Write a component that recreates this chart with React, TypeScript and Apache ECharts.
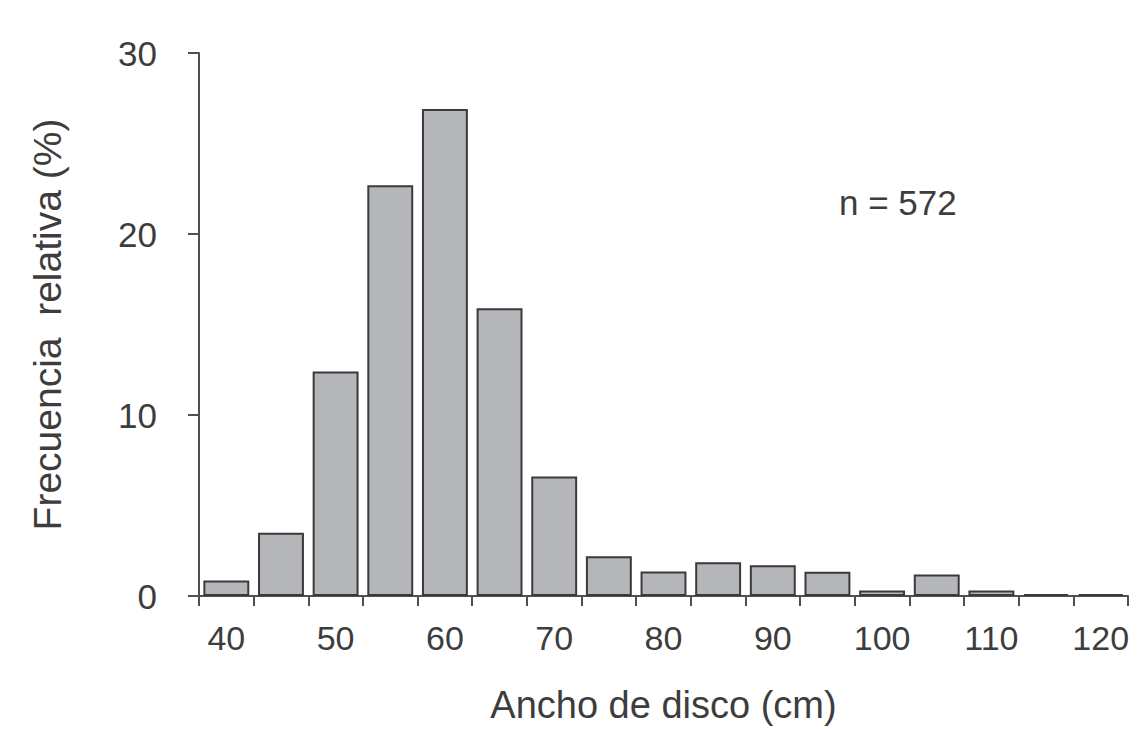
import React, { useEffect, useRef } from "react";
import * as echarts from "echarts";

const categories = ["40", "45", "50", "55", "60", "65", "70", "75", "80", "85", "90", "95", "100", "105", "110", "115", "120"];
const frequencies = [0.85, 3.5, 12.4, 22.7, 26.9, 15.9, 6.6, 2.2, 1.36, 1.87, 1.7, 1.34, 0.3, 1.19, 0.3, 0.1, 0.1];
const yTicks = { min: 0, max: 30, interval: 10 };
const annotation = "n = 572";
const xName = "Ancho de disco (cm)";
const yName = "Frecuencia  relativa (%)";

export default function App() {
  const ref = useRef<HTMLDivElement>(null);
  useEffect(() => {
    if (!ref.current) return;
    const chart = echarts.init(ref.current, undefined, { renderer: "svg" });
    const textColor = "#3d3d3d";
    const axisColor = "#505050";
    const font = "'Liberation Sans', Arial, sans-serif";
    chart.setOption({
      animation: false,
      backgroundColor: "#ffffff",
      textStyle: { fontFamily: font },
      grid: { left: 199, right: 13, top: 53, bottom: 131, containLabel: false },
      xAxis: {
        type: "category",
        data: categories,
        boundaryGap: true,
        name: xName,
        nameLocation: "middle",
        nameGap: 90,
        nameTextStyle: { fontSize: 38, color: textColor },
        axisLine: { show: true, lineStyle: { color: axisColor, width: 2 } },
        axisTick: { show: true, interval: 0, length: 10, lineStyle: { color: axisColor, width: 2 } },
        axisLabel: { interval: 1, fontSize: 34, color: textColor, margin: 25 },
        splitLine: { show: false },
      },
      yAxis: {
        type: "value",
        min: yTicks.min,
        max: yTicks.max,
        interval: yTicks.interval,
        name: yName,
        nameLocation: "middle",
        nameGap: 132,
        nameRotate: 90,
        nameTextStyle: { fontSize: 39, color: textColor },
        axisLine: { show: true, lineStyle: { color: axisColor, width: 2 } },
        axisTick: { show: true, length: 11, lineStyle: { color: axisColor, width: 2 } },
        axisLabel: { fontSize: 35, color: textColor, margin: 42 },
        splitLine: { show: false },
      },
      series: [
        {
          type: "bar",
          data: frequencies,
          barCategoryGap: "16%",
          itemStyle: { color: "#b5b6b9", borderColor: "#3a3a3a", borderWidth: 2 },
        },
      ],
      graphic: [
        {
          type: "text",
          left: 839,
          top: 185,
          style: { text: annotation, fontSize: 35, fill: textColor, fontFamily: font },
        },
      ],
    });
    return () => chart.dispose();
  }, []);
  return <div ref={ref} style={{ position: "fixed", left: 0, top: 0, width: 1141, height: 729 }} />;
}
